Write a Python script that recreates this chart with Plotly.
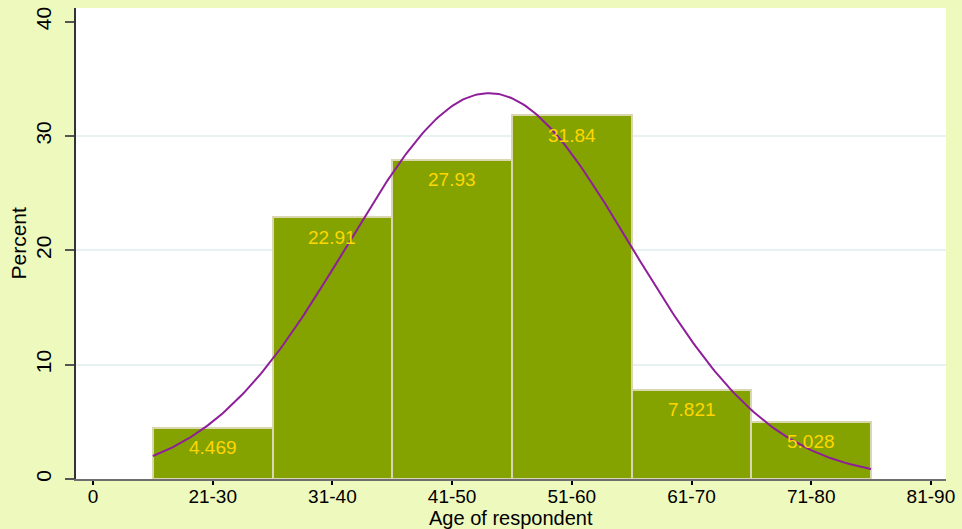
import numpy as np
import plotly.graph_objects as go

# Data
age_groups = ["21-30", "31-40", "41-50", "51-60", "61-70", "71-80"]
percents = [4.469, 22.91, 27.93, 31.84, 7.821, 5.028]
bar_pos = [1, 2, 3, 4, 5, 6]
x_tick_vals = [0, 1, 2, 3, 4, 5, 6, 7]
x_tick_text = ["0", "21-30", "31-40", "41-50", "51-60", "61-70", "71-80", "81-90"]
y_tick_vals = [0, 10, 20, 30, 40]
y_grid_vals = [10, 20, 30]
label_texts = ["4.469", "22.91", "27.93", "31.84", "7.821", "5.028"]

# Normal density overlay fitted to the histogram (as the stats package draws it)
p = np.array(percents) / 100.0
xs = np.array(bar_pos, dtype=float)
mu = float((p * xs).sum() / p.sum())
sd = float(np.sqrt((p * (xs - mu) ** 2).sum() / p.sum()))
curve_x = np.linspace(bar_pos[0] - 0.5, bar_pos[-1] + 0.5, 300)
curve_y = 100.0 * np.exp(-0.5 * ((curve_x - mu) / sd) ** 2) / (sd * np.sqrt(2 * np.pi))

FONT = "Liberation Sans, Arial, sans-serif"
BG = "#EEF9BE"

fig = go.Figure()
fig.add_trace(go.Bar(
    x=bar_pos, y=percents, width=1.0,
    marker=dict(color="#84A200", line=dict(color="#DAD6B0", width=2)),
    hoverinfo="skip",
))
fig.add_trace(go.Scatter(
    x=curve_x, y=curve_y, mode="lines",
    line=dict(color="#8E1E9A", width=2),
    hoverinfo="skip",
))

for xv, yv, t in zip(bar_pos, percents, label_texts):
    fig.add_annotation(
        x=xv, y=yv, text=t, showarrow=False, yanchor="middle", yshift=-20,
        font=dict(family=FONT, size=19, color="#FFD700"),
    )

# Axis titles as annotations for exact placement
fig.add_annotation(
    xref="paper", yref="paper", x=0.5, y=0, yanchor="middle", yshift=-39,
    text="Age of respondent", showarrow=False,
    font=dict(family=FONT, size=20, color="#000000"),
)
fig.add_annotation(
    xref="paper", yref="paper", x=0, y=0.5, xanchor="center", xshift=-58,
    text="Percent", textangle=-90, showarrow=False,
    font=dict(family=FONT, size=21, color="#000000"),
)

fig.update_layout(
    width=962, height=529,
    paper_bgcolor=BG,
    plot_bgcolor="#FFFFFF",
    margin=dict(l=76, r=16, t=8, b=50),
    showlegend=False,
    bargap=0,
    font=dict(family=FONT, color="#000000"),
)
fig.update_xaxes(
    range=[-0.142, 7.126],
    tickvals=x_tick_vals, ticktext=x_tick_text,
    ticks="outside", ticklen=4, tickwidth=2, tickcolor="#000000",
    tickfont=dict(size=19),
    showline=True, linecolor="#6E6E6E", linewidth=2,
    showgrid=False, zeroline=False,
    ticklabelstandoff=-5,
    automargin=False,
)
fig.update_yaxes(
    range=[0, 41.2],
    tickvals=y_tick_vals,
    ticks="outside", ticklen=9, tickwidth=1.5, tickcolor="#555555",
    tickangle=-90,
    tickfont=dict(size=21),
    showline=True, linecolor="#333333", linewidth=1.5,
    showgrid=False,
    minor=dict(tickvals=y_grid_vals, showgrid=True, gridcolor="#E8F1F1",
               gridwidth=1.5, ticks=""),
    zeroline=False,
    ticklabelstandoff=6,
    automargin=False,
)

fig.write_html(
    "out.html",
    config={"displayModeBar": False},
    post_script="document.body.style.margin='0';document.body.style.background='" + BG + "';",
)
